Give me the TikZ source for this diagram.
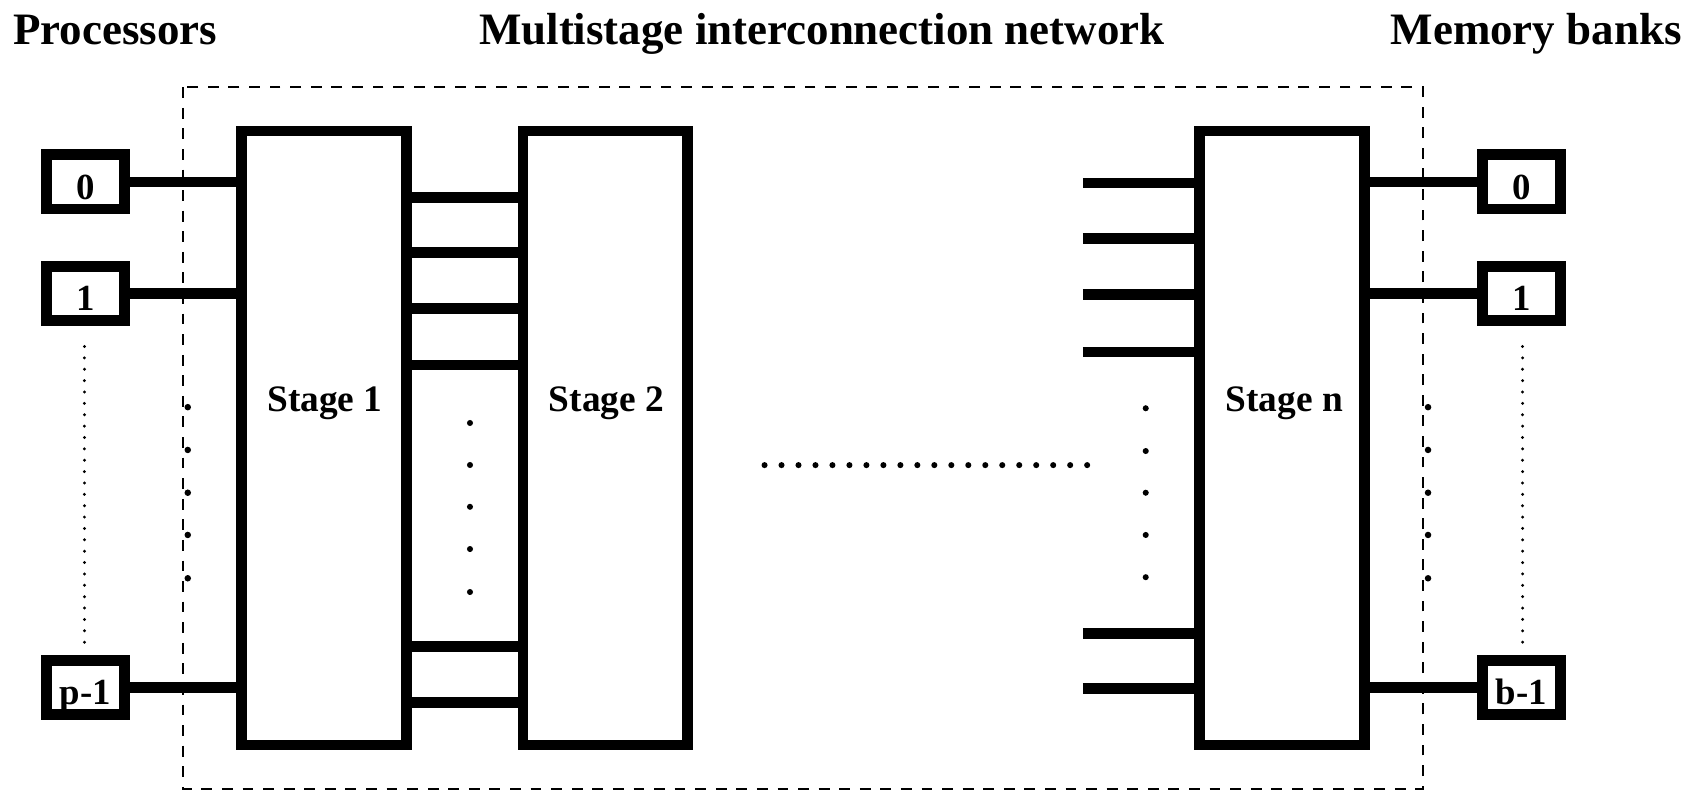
\documentclass[tikz,border=0pt]{standalone}
\usepackage{fontspec}
\setmainfont{Liberation Serif}
\begin{document}
\begin{tikzpicture}[x=1pt,y=-1pt,
  box/.style={draw,line width=10pt,minimum width=72pt,minimum height=50pt,inner sep=0pt,text height=32pt,text depth=0pt,font=\fontsize{34}{40}\selectfont\bfseries},
  stagebox/.style={draw,line width=10pt,minimum width=152pt,minimum height=567pt,inner sep=0pt},
  wire/.style={line width=10pt},
  title/.style={font=\fontsize{41.5}{50}\selectfont\bfseries,inner sep=0pt},
  slabel/.style={font=\fontsize{34.5}{40}\selectfont\bfseries,inner sep=0pt,anchor=base},
  netbox/.style={line width=2pt,dash pattern=on 10pt off 9pt},
  dotline/.style={line width=3pt,line cap=round,dash pattern=on 0pt off 10.5pt}]
\useasboundingbox (0,0) rectangle (1568,730);

% titles
\node[title,anchor=base west] (tp) at (12,41.5) {Processors};
\node[title,anchor=base] (tn) at (759,41.5) {Multistage interconnection network};
\node[title,anchor=base east] (tm) at (1553,41.5) {Memory banks};

% network boundary
\draw[netbox] (169,80.6) rectangle (1314,728.6);

% stages
\node[stagebox] (s1) at (299,404.5) {};
\node[stagebox] (s2) at (559,404.5) {};
\node[stagebox] (sn) at (1184,404.5) {};
\node[slabel] (s1t) at (300,380) {Stage 1};
\node[slabel] (s2t) at (560,380) {Stage 2};
\node[slabel] (snt) at (1186,380) {Stage n};

% processors
\node[box] (p0) at (79,168) {0};
\node[box] (p1) at (79,271) {1};
\node[box] (pn) at (79,635) {p-1};
% memory banks
\node[box] (m0) at (1405,168) {0};
\node[box] (m1) at (1405,271) {1};
\node[box] (mn) at (1405,635) {b-1};

% processor wires
\foreach \n in {p0,p1,pn} \draw[wire] (\n.east) -- (\n.east -| s1.west);
% memory wires
\foreach \n in {m0,m1,mn} \draw[wire] (\n.west -| sn.east) -- (\n.west);

% stage 1 -> stage 2 wires
\foreach \y [count=\i] in {182,233,285,337,597,649} {
  \path (s1.east) ++(0,{\y-404.5}) coordinate (a\i);
  \draw[wire] (a\i) -- (a\i -| s2.west);
}
% stubs into stage n
\foreach \y [count=\i] in {169,220,272,325,585,636} {
  \coordinate (b\i) at (1000,\y);
  \draw[wire] (b\i) -- (b\i -| sn.west);
}

% vertical dots
\foreach \y in {390.6,429.4,468,507,546.7} \fill (434,\y) circle (2.8pt);
\foreach \y in {377,416.5,455,494,533} \fill (1058,\y) circle (2.8pt);
\foreach \y in {376,415.5,455,494,534} {
  \fill (173.4,\y) circle (3pt);
  \fill (1318.7,\y) circle (3pt);
}
% horizontal dots
\foreach \i in {0,...,19} \fill ({706+\i*15.68},429.5) circle (2.8pt);

% dotted lines between boxes
\coordinate (pdt) at (78,320);
\coordinate (pdb) at (78,593);
\coordinate (mdt) at (1406,320);
\coordinate (mdb) at (1406,593);
\draw[dotline] (pdt) -- (pdb);
\draw[dotline] (mdt) -- (mdb);
\end{tikzpicture}
\end{document}
